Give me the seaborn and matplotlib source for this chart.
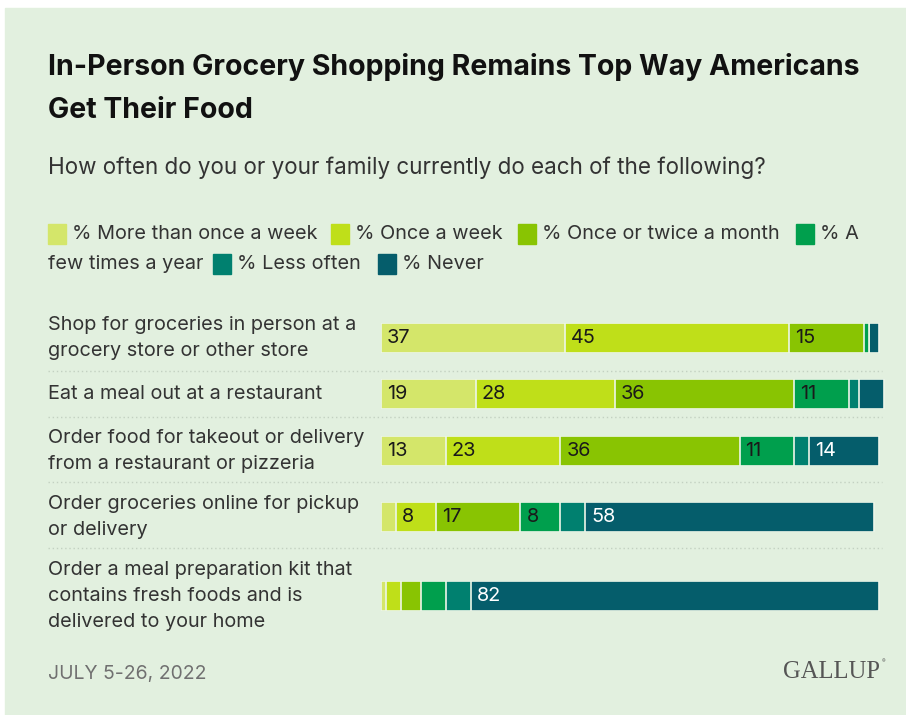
import numpy as np
import pandas as pd
import matplotlib
matplotlib.use("Agg")
import matplotlib.pyplot as plt
import seaborn as sns
from matplotlib.patches import Rectangle
from matplotlib.lines import Line2D

# ─────────────────────────────────────────────
# DATA
# ─────────────────────────────────────────────
items = [
    "Shop for groceries in person at a\ngrocery store or other store",
    "Eat a meal out at a restaurant",
    "Order food for takeout or delivery\nfrom a restaurant or pizzeria",
    "Order groceries online for pickup\nor delivery",
    "Order a meal preparation kit that\ncontains fresh foods and is\ndelivered to your home",
]
freq_labels = ["% More than once a week", "% Once a week", "% Once or twice a month",
               "% A few times a year", "% Less often", "% Never"]

more_than_weekly = [37, 19, 13, 3, 1]
once_week = [45, 28, 23, 8, 3]
monthly = [15, 36, 36, 17, 4]
few_per_year = [1, 11, 11, 8, 5]
less_often = [0, 2, 3, 5, 5]
never = [2, 5, 14, 58, 82]

title_1 = "In-Person Grocery Shopping Remains Top Way Americans"
title_2 = "Get Their Food"
subtitle = "How often do you or your family currently do each of the following?"
date_note = "JULY 5-26, 2022"

colors = ["#d4e66a", "#bfdf19", "#89c402", "#009f4d", "#00806f", "#055d6b"]
BG = "#e2f0df"

# long table with segment starts / ends
series = [more_than_weekly, once_week, monthly, few_per_year, less_often, never]
rows = []
for i, item in enumerate(items):
    cum = 0
    for j, lab in enumerate(freq_labels):
        v = series[j][i]
        rows.append({"item": item, "freq": lab, "value": v, "start": cum, "end": cum + v})
        cum += v
df = pd.DataFrame(rows)

# ─────────────────────────────────────────────
# FIGURE
# ─────────────────────────────────────────────
sns.set_theme(style="white")
plt.rcParams["font.family"] = ["Inter", "DejaVu Sans"]

W, H = 906, 715
fig = plt.figure(figsize=(W / 100, H / 100), dpi=100, facecolor="white")
bg = fig.add_axes([0, 0, 1, 1])
bg.set_xlim(0, W)
bg.set_ylim(H, 0)
bg.axis("off")
bg.add_patch(Rectangle((5, 8), W - 5, H - 8, color=BG, zorder=0))

renderer = fig.canvas.get_renderer()


def fit(t, width_px):
    w = t.get_window_extent(renderer=renderer).width
    t.set_fontsize(t.get_fontsize() * width_px / w)
    return t.get_fontsize()


# titles
t1 = bg.text(48, 67, title_1, fontsize=20, fontweight="bold", color="#111111", va="center")
tfs = fit(t1, 814)
bg.text(48, 111, title_2, fontsize=tfs, fontweight="bold", color="#111111", va="center")
st = bg.text(48, 168, subtitle, fontsize=14, color="#333333", va="center")
fit(st, 720)

# body font size from one category label
probe = bg.text(0, -100, items[1], fontsize=14)
body_fs = fit(probe, 275)
probe.remove()

# legend (wraps inside the 4th entry like the original)
leg_row1, leg_row2 = 234, 264
legend_layout = [
    (48, leg_row1, 0, "% More than once a week"),
    (331, leg_row1, 1, "% Once a week"),
    (518, leg_row1, 2, "% Once or twice a month"),
    (796, leg_row1, 3, "% A"),
    (None, leg_row2, None, "few times a year"),
    (213, leg_row2, 4, "% Less often"),
    (378, leg_row2, 5, "% Never"),
]
for x, y, ci, txt in legend_layout:
    if x is None:
        bg.text(48, y, txt, fontsize=body_fs, color="#333333", va="center")
        continue
    bg.add_patch(Rectangle((x, y - 10), 18, 20, color=colors[ci], zorder=2))
    bg.text(x + 24, y, txt, fontsize=body_fs, color="#333333", va="center")

# rows
bar_centers = [338, 394, 451, 517, 596]
separators = [371, 417, 482, 548]
x0, px_per_pct, bar_h = 381, 4.98, 30
ax_w = 505

for y in separators:
    bg.add_line(Line2D([48, 882], [y, y], color="#c3d1c1", lw=1, linestyle=(0, (1, 2))))

for i, item in enumerate(items):
    yc = bar_centers[i]
    ax = fig.add_axes([x0 / W, (H - yc - bar_h / 2) / H, ax_w / W, bar_h / H])
    ax.patch.set_alpha(0)
    row = df[df["item"] == item].reset_index(drop=True)
    for j in reversed(range(len(freq_labels))):
        sns.barplot(data=row.iloc[[j]], x="end", y="item", color=colors[j], width=1,
                    orient="h", saturation=1, errorbar=None, edgecolor="#edf6e9",
                    linewidth=1.2, ax=ax)
    for j, r in row.iterrows():
        if r["value"] >= 8:
            ax.annotate(str(r["value"]), (r["start"], 0), xytext=(4.3, 0),
                        textcoords="offset points", va="center", ha="left",
                        fontsize=body_fs, color="white" if j >= 4 else "#1a1a1a")
    ax.set_xlim(0, ax_w / px_per_pct)
    ax.set_ylim(0.5, -0.5)
    ax.axis("off")
    bg.text(48, yc, item, fontsize=body_fs, color="#333333", va="center",
            ha="left", linespacing=1.55)

# footer
dt = bg.text(48, 674, date_note, fontsize=12, color="#707070", va="center")
fit(dt, 159)
gl = bg.text(880, 672, "GALLUP", fontsize=18, color="#555555", va="center", ha="right",
             family=["Liberation Serif", "DejaVu Serif"])
fit(gl, 97)
bg.text(882, 662, "®", fontsize=4, color="#555555", va="center")

fig.savefig("out.png", dpi=100, facecolor="white")
